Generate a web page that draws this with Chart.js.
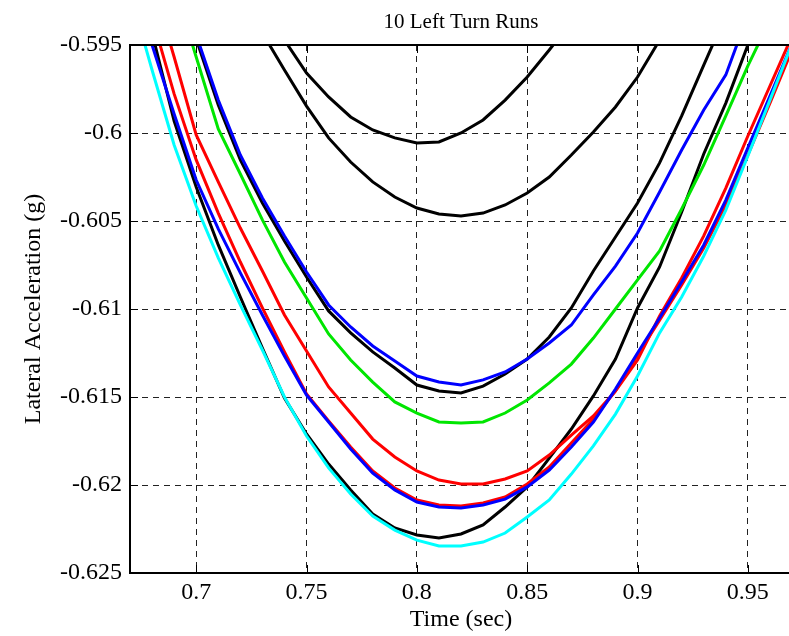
<!DOCTYPE html>
<html>
<head>
<meta charset="utf-8">
<script src="https://cdn.jsdelivr.net/npm/chart.js@4/dist/chart.umd.min.js"></script>
<style>
  html, body { margin: 0; padding: 0; background: #fff; overflow: hidden; }
  #wrap { width: 792px; height: 636px; }
</style>
</head>
<body>
<div id="wrap"><canvas id="runsChart" width="792" height="636"></canvas></div>
<script>
// sampling times (sec), one point every 0.01 s
const timeSec = [0.67, 0.68, 0.69, 0.70, 0.71, 0.72, 0.73, 0.74, 0.75, 0.76, 0.77, 0.78, 0.79, 0.80, 0.81,
    0.82, 0.83, 0.84, 0.85, 0.86, 0.87, 0.88, 0.89, 0.90, 0.91, 0.92, 0.93, 0.94, 0.95, 0.96, 0.97];

// lateral acceleration (g) for each of the 10 runs
const runCyan = [-0.59199, -0.59642, -0.60068, -0.60415, -0.6071, -0.60977, -0.61233, -0.615, -0.61722, -0.61903, -0.62051,
    -0.62176, -0.62256, -0.62313, -0.62347, -0.62347, -0.62324, -0.62273, -0.62182, -0.62085, -0.61938, -0.61778,
    -0.61597, -0.61381, -0.61136, -0.60932, -0.60699, -0.60438, -0.60131, -0.59813, -0.59494];
const runBlueLow = [-0.59102, -0.595, -0.59892, -0.60267, -0.60545, -0.60795, -0.61034, -0.61267, -0.61489, -0.61642, -0.61795,
    -0.61932, -0.62028, -0.62097, -0.62125, -0.62131, -0.62114, -0.6208, -0.62011, -0.61915, -0.61784, -0.61642,
    -0.61455, -0.6125, -0.61051, -0.60847, -0.60636, -0.60381, -0.60085, -0.5979, -0.59494];
const runBlueHigh = [null, null, -0.59074, -0.59443, -0.59813, -0.60125, -0.60369, -0.60585, -0.6079, -0.60977, -0.61102,
    -0.6121, -0.61295, -0.61381, -0.61415, -0.61432, -0.61403, -0.61358, -0.61284, -0.61193, -0.61091, -0.6092,
    -0.60756, -0.60568, -0.60335, -0.60097, -0.59869, -0.5967, -0.5933, null, null];
const runGreen = [null, null, -0.59159, -0.59568, -0.59977, -0.60233, -0.60494, -0.60733, -0.60938, -0.61142, -0.6129,
    -0.61415, -0.61528, -0.61591, -0.61642, -0.61648, -0.61642, -0.61591, -0.61517, -0.6142, -0.61313, -0.61165,
    -0.61, -0.60835, -0.6067, -0.60432, -0.60182, -0.59903, -0.59619, -0.59358, null];
const runRedLow = [-0.58903, -0.59341, -0.59778, -0.60153, -0.60455, -0.60733, -0.60994, -0.61244, -0.61483, -0.61636, -0.61784,
    -0.6192, -0.62017, -0.62085, -0.62114, -0.62119, -0.62102, -0.62068, -0.61994, -0.61898, -0.61761, -0.61625,
    -0.61466, -0.61261, -0.61063, -0.60864, -0.60653, -0.60409, -0.60125, -0.5983, -0.59528];
const runRedHigh = [-0.5885, -0.59142, -0.59568, -0.60011, -0.60278, -0.6054, -0.60784, -0.61034, -0.61239, -0.61443, -0.61591,
    -0.61739, -0.61841, -0.6192, -0.61972, -0.61994, -0.61994, -0.61966, -0.6192, -0.6183, -0.61716, -0.61608,
    -0.61466, -0.6129, -0.6104, -0.60824, -0.60585, -0.60313, -0.60017, -0.59733, -0.59449];
const runBlackA = [null, null, null, null, null, -0.5915, -0.59313, -0.59472, -0.59659, -0.59795, -0.59909,
    -0.59983, -0.60028, -0.60057, -0.60051, -0.6, -0.59926, -0.59813, -0.59682, -0.59528, -0.59369, -0.592,
    null, null, null, null, null, null, null, null, null];
const runBlackB = [null, null, null, null, null, -0.59216, -0.59432, -0.59642, -0.59847, -0.60028, -0.60165,
    -0.60278, -0.60364, -0.60426, -0.6046, -0.60472, -0.60455, -0.60409, -0.60341, -0.6025, -0.60125, -0.59994,
    -0.59852, -0.59682, -0.59472, -0.59273, null, null, null, null, null];
const runBlackC = [null, null, -0.59102, -0.59466, -0.59841, -0.60153, -0.60398, -0.60614, -0.60818, -0.61011, -0.61136,
    -0.61244, -0.61335, -0.61432, -0.61466, -0.61477, -0.61438, -0.61369, -0.61284, -0.61159, -0.60994, -0.60784,
    -0.60591, -0.60398, -0.6017, -0.59903, -0.59614, -0.5933, null, null, null];
const runBlackD = [-0.58903, -0.59432, -0.59932, -0.60307, -0.60636, -0.60932, -0.61222, -0.61506, -0.6171, -0.61881, -0.62028,
    -0.62165, -0.62244, -0.62284, -0.62301, -0.62278, -0.62227, -0.62125, -0.62011, -0.61847, -0.61682, -0.61494,
    -0.61284, -0.60994, -0.60761, -0.60449, -0.60119, -0.5983, -0.595, -0.59159, null];

// tick positions
const xTicks = [0.7, 0.75, 0.8, 0.85, 0.9, 0.95];
const yTicks = [-0.625, -0.62, -0.615, -0.61, -0.605, -0.6, -0.595];

const serif = "'Liberation Serif', 'Times New Roman', serif";

function line(values, color) {
    return {
        data: timeSec.map((t, i) => ({ x: t, y: values[i] })),
        borderColor: color,
        borderWidth: 3,
        pointRadius: 0,
        tension: 0,
        fill: false,
        clip: 0
    };
}

// MATLAB style: solid ticks pointing into the plot box, plus the top frame line
const innerTicks = {
    id: 'innerTicks',
    afterDraw(chart) {
        const { ctx, chartArea: a, scales: { x, y } } = chart;
        ctx.save();
        ctx.strokeStyle = '#000';
        ctx.lineWidth = 1;
        ctx.beginPath();
        xTicks.forEach(v => {
            const px = Math.round(x.getPixelForValue(v)) + 0.5;
            ctx.moveTo(px, a.bottom); ctx.lineTo(px, a.bottom - 8);
            ctx.moveTo(px, a.top); ctx.lineTo(px, a.top + 8);
        });
        yTicks.forEach(v => {
            const py = Math.round(y.getPixelForValue(v)) + 0.5;
            ctx.moveTo(a.left, py); ctx.lineTo(a.left + 8, py);
        });
        ctx.stroke();
        ctx.lineWidth = 2;
        ctx.beginPath();
        ctx.moveTo(a.left, a.top); ctx.lineTo(a.right, a.top);
        ctx.stroke();
        ctx.restore();
    }
};

const ctx = document.getElementById('runsChart').getContext('2d');
new Chart(ctx, {
    type: 'line',
    data: {
        datasets: [
            line(runCyan, '#00ffff'),
            line(runBlueLow, '#0000ff'),
            line(runBlueHigh, '#0000ff'),
            line(runGreen, '#00e600'),
            line(runRedLow, '#ff0000'),
            line(runRedHigh, '#ff0000'),
            line(runBlackA, '#000000'),
            line(runBlackB, '#000000'),
            line(runBlackC, '#000000'),
            line(runBlackD, '#000000')
        ]
    },
    options: {
        responsive: false,
        animation: false,
        layout: { padding: 0 },
        plugins: {
            legend: { display: false },
            tooltip: { enabled: false },
            title: {
                display: true,
                text: '10 Left Turn Runs',
                fullSize: false,
                color: '#000',
                font: { family: serif, size: 21, weight: 'normal' },
                padding: { top: 10, bottom: 9.8 }
            }
        },
        scales: {
            x: {
                type: 'linear',
                min: 0.67,
                max: 0.97,
                afterBuildTicks: scale => { scale.ticks = xTicks.map(v => ({ value: v })); },
                afterFit: scale => { scale.height = 63; },
                grid: { color: '#222', lineWidth: 1, drawTicks: false },
                border: { display: true, color: '#000', width: 2, dash: [6, 5] },
                ticks: {
                    color: '#000',
                    padding: 5,
                    maxRotation: 0,
                    font: { family: serif, size: 24 },
                    callback: v => String(+v.toFixed(3))
                },
                title: {
                    display: true,
                    text: 'Time (sec)',
                    color: '#000',
                    font: { family: serif, size: 24 },
                    padding: { top: 0, bottom: 2 }
                }
            },
            y: {
                type: 'linear',
                min: -0.625,
                max: -0.595,
                afterBuildTicks: scale => { scale.ticks = yTicks.map(v => ({ value: v })); },
                afterFit: scale => { scale.width = 130; },
                grid: { color: '#222', lineWidth: 1, drawTicks: false },
                border: { display: true, color: '#000', width: 2, dash: [6, 5] },
                ticks: {
                    color: '#000',
                    padding: 8,
                    font: { family: serif, size: 24 },
                    callback: v => String(+v.toFixed(3))
                },
                title: {
                    display: true,
                    text: 'Lateral Acceleration (g)',
                    color: '#000',
                    font: { family: serif, size: 24 },
                    padding: { top: 19, bottom: 0 }
                }
            }
        }
    },
    plugins: [innerTicks]
});
</script>
</body>
</html>
